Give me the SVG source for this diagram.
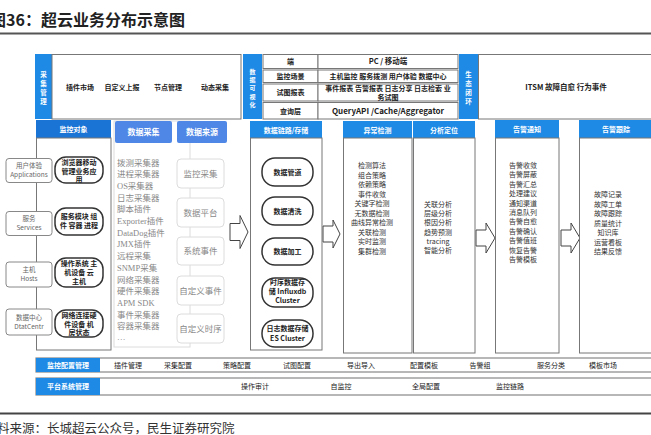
<svg xmlns="http://www.w3.org/2000/svg" width="651" height="435" viewBox="0 0 651 435">
<style>
text{font-family:"Noto Sans CJK SC","Liberation Sans",sans-serif;}
.t{font-size:7px;fill:#333;text-anchor:middle;}
.tb{font-size:7px;fill:#222;text-anchor:middle;font-weight:bold;}
.tn{font-size:7px;fill:#222;text-anchor:middle;}
.w{font-size:7px;fill:#fff;text-anchor:middle;font-weight:bold;}
.v{font-size:6.5px;fill:#fff;text-anchor:middle;font-weight:bold;}
.v6{font-size:6px;fill:#fff;text-anchor:middle;font-weight:bold;}
.g{font-size:6.5px;fill:#666;text-anchor:middle;}
.s{font-family:"Liberation Serif","Noto Sans CJK SC",serif;font-size:8.5px;fill:#888;}
.sc{font-family:"Liberation Serif","Noto Sans CJK SC",serif;font-size:8.5px;fill:#888;text-anchor:middle;}
.blue{fill:#1e8ae6;}
.box{fill:#fff;stroke:#777;stroke-width:1;}
.pill{fill:#fff;stroke:#333;stroke-width:1.5;}
.sm{fill:#fff;stroke:#888;stroke-width:1;}
.lt{fill:#fff;stroke:#dcdcdc;stroke-width:1;}
.hd{fill:#4f87e6;}
.arr{fill:#fff;stroke:#444;stroke-width:1;}
</style>
<rect width="651" height="435" fill="#fff"/>
<text x="-10" y="26" style="font-size:16px;font-weight:bold;fill:#222;">图36：超云业务分布示意图</text>
<line x1="0" y1="33.5" x2="651" y2="33.5" stroke="#555" stroke-width="2"/>

<g id="collect-mgmt">
<rect class="blue" x="35" y="54" width="17" height="65"/>
<text class="v" x="43.5" y="76.5">采</text><text class="v" x="43.5" y="85.5">集</text><text class="v" x="43.5" y="94.5">管</text><text class="v" x="43.5" y="103.5">理</text>
<rect class="box" x="52" y="54.5" width="189" height="64.5"/>
<text class="tb" x="80" y="90">插件市场</text>
<text class="tb" x="122" y="90">自定义上报</text>
<text class="tb" x="168" y="90">节点管理</text>
<text class="tb" x="215" y="90">动态采集</text>
</g>

<g id="data-vis">
<rect class="blue" x="243" y="54" width="19" height="65"/>
<text class="v6" x="252.5" y="73.5">数</text><text class="v6" x="252.5" y="81.9">据</text><text class="v6" x="252.5" y="90.3">可</text><text class="v6" x="252.5" y="98.7">视</text><text class="v6" x="252.5" y="107.1">化</text>
<rect class="box" x="263" y="54.5" width="55" height="14"/>
<rect class="box" x="263" y="70" width="55" height="12.5"/>
<rect class="box" x="263" y="84" width="55" height="17"/>
<rect class="box" x="263" y="102.5" width="55" height="16.5"/>
<rect class="box" x="318" y="54.5" width="140" height="14"/>
<rect class="box" x="318" y="70" width="140" height="12.5"/>
<rect class="box" x="318" y="84" width="140" height="17"/>
<rect class="box" x="318" y="102.5" width="140" height="16.5"/>
<text class="tb" x="290.5" y="64">端</text>
<text class="tb" x="290.5" y="79">监控场景</text>
<text class="tb" x="290.5" y="95">试图报表</text>
<text class="tb" x="290.5" y="113.5">查询层</text>
<text class="tb" x="388" y="64" style="font-size:7.5px">PC / 移动端</text>
<text class="tb" x="388" y="79">主机监控 服务拨测 用户体验 数据中心</text>
<text class="tb" x="388" y="91">事件报表 告警报表 日志分享 日志检索 业</text>
<text class="tb" x="388" y="99.5">务试图</text>
<text class="tb" x="388" y="114" style="font-size:8px">QueryAPI /Cache/Aggregator</text>
</g>

<g id="eco-loop">
<rect class="blue" x="459" y="54" width="19" height="65"/>
<text class="v" x="468.5" y="77">生</text><text class="v" x="468.5" y="86">态</text><text class="v" x="468.5" y="95">闭</text><text class="v" x="468.5" y="104">环</text>
<rect class="box" x="478.5" y="54.5" width="175" height="64.5"/>
<text class="tb" x="566" y="90" style="font-size:7.5px">ITSM 故障自愈 行为事件</text>
</g>

<g id="monitor-objects">
<rect x="36" y="120" width="75" height="18" fill="#1a74d6"/>
<text class="w" x="73.5" y="132">监控对象</text>
<rect class="box" x="36.5" y="138" width="74.5" height="212"/>
<rect class="sm" x="6" y="158.5" width="46" height="24" rx="3"/>
<text class="g" x="29" y="168">用户体验</text><text class="g" x="29" y="177">Applications</text>
<rect class="sm" x="6" y="211.5" width="46" height="24" rx="3"/>
<text class="g" x="29" y="221">服务</text><text class="g" x="29" y="230">Services</text>
<rect class="sm" x="6" y="262" width="46" height="25" rx="3"/>
<text class="g" x="29" y="272">主机</text><text class="g" x="29" y="281">Hosts</text>
<rect class="sm" x="6" y="309" width="46" height="26" rx="3"/>
<text class="g" x="29" y="319.5">数据中心</text><text class="g" x="29" y="328.5">DtatCentr</text>
<rect class="pill" x="55" y="157" width="48" height="26" rx="11"/>
<text class="tb" x="79" y="165">浏览器移动</text><text class="tb" x="79" y="173.5">管理业务应</text><text class="tb" x="79" y="182">用</text>
<rect class="pill" x="55" y="208" width="48" height="27" rx="11"/>
<text class="tb" x="79" y="219">服务模块 组</text><text class="tb" x="79" y="228">件 容器 进程</text>
<rect class="pill" x="55" y="258" width="48" height="29" rx="11"/>
<text class="tb" x="79" y="266">操作系统 主</text><text class="tb" x="79" y="275">机设备  云</text><text class="tb" x="79" y="284">主机</text>
<rect class="pill" x="55" y="310" width="48" height="27" rx="11"/>
<text class="tb" x="79" y="318">网络连接硬</text><text class="tb" x="79" y="326.5">件设备  机</text><text class="tb" x="79" y="335">房状态</text>
</g>

<g id="data-collect">
<rect class="lt" x="114" y="121" width="76" height="226"/>
<rect class="hd" x="115" y="121" width="57" height="22" rx="2"/>
<text class="w" x="143.5" y="135" style="font-size:8px">数据采集</text>
<text class="s" x="117" y="165.5">拨测采集器</text>
<text class="s" x="117" y="177.2">进程采集器</text>
<text class="s" x="117" y="188.9">OS采集器</text>
<text class="s" x="117" y="200.6">日志采集器</text>
<text class="s" x="117" y="212.3">脚本插件</text>
<text class="s" x="117" y="224">Exporter插件</text>
<text class="s" x="117" y="235.7">DataDog插件</text>
<text class="s" x="117" y="247.4">JMX插件</text>
<text class="s" x="117" y="259.1">远程采集</text>
<text class="s" x="117" y="270.8">SNMP采集</text>
<text class="s" x="117" y="282.5">网络采集器</text>
<text class="s" x="117" y="294.2">硬件采集器</text>
<text class="s" x="117" y="305.9">APM SDK</text>
<text class="s" x="117" y="317.6">事件采集器</text>
<text class="s" x="117" y="329.3">容器采集器</text>
<text class="s" x="117" y="340">…</text>
</g>

<g id="data-source">
<rect class="hd" x="177" y="121" width="50" height="22" rx="2"/>
<text class="w" x="202" y="135" style="font-size:8px">数据来源</text>
<rect class="lt" x="177" y="159" width="47" height="29" rx="4"/>
<text class="sc" x="200.5" y="176.5">监控采集</text>
<rect class="lt" x="177" y="198" width="47" height="29" rx="4"/>
<text class="sc" x="200.5" y="215.5">数据平台</text>
<rect class="lt" x="177" y="237" width="47" height="28" rx="4"/>
<text class="sc" x="200.5" y="254">系统事件</text>
<rect class="lt" x="177" y="276" width="47" height="29" rx="4"/>
<text class="sc" x="200.5" y="293.5">自定义事件</text>
<rect class="lt" x="177" y="314" width="47" height="29" rx="4"/>
<text class="sc" x="200.5" y="331.5">自定义时序</text>
</g>

<g id="connectors">
<polygon class="arr" points="230,223.5 240,223.5 240,215.5 248,232 240,248.5 240,240.5 230,240.5"/>
<polygon class="arr" points="323,226 333,226 333,220 340,234 333,248 333,242 323,242"/>
<polygon class="arr" points="476,230 486,230 486,223 495,238 486,253 486,246 476,246"/>
<polygon class="arr" points="561,230 571,230 571,223 580,238 571,253 571,246 561,246"/>
</g>

<g id="data-link">
<rect class="blue" x="250" y="121" width="72" height="17"/>
<text class="w" x="286" y="132.5">数据链路/存储</text>
<rect class="box" x="250.5" y="138" width="71.5" height="212"/>
<rect class="pill" x="262" y="158" width="51" height="28" rx="13"/>
<text class="tb" x="287.5" y="174.5">数据管道</text>
<rect class="pill" x="262" y="197" width="51" height="28" rx="13"/>
<text class="tb" x="287.5" y="213.5">数据清洗</text>
<rect class="pill" x="262" y="238" width="51" height="27" rx="13"/>
<text class="tb" x="287.5" y="254">数据加工</text>
<rect class="pill" x="262" y="278" width="51" height="29" rx="13"/>
<text class="tb" x="287.5" y="284.5">时序数据存</text><text class="tb" x="287.5" y="294">储 Influxdb</text><text class="tb" x="287.5" y="303">Cluster</text>
<rect class="pill" x="262" y="320" width="51" height="27" rx="13"/>
<text class="tb" x="287.5" y="331">日志数据存储</text><text class="tb" x="287.5" y="340.5">ES Cluster</text>
</g>

<g id="anomaly">
<rect class="blue" x="343" y="121" width="69" height="17"/>
<text class="w" x="377.5" y="132.5">异常检测</text>
<rect class="box" x="343.5" y="138" width="68.5" height="215"/>
<text class="t" x="372" y="168">检测算法</text>
<text class="t" x="372" y="177.5">组合策略</text>
<text class="t" x="372" y="187">依赖策略</text>
<text class="t" x="372" y="196.5">事件收敛</text>
<text class="t" x="372" y="206">关键字检测</text>
<text class="t" x="372" y="215.5">无数据检测</text>
<text class="t" x="372" y="225">曲线异常检测</text>
<text class="t" x="372" y="234.5">关联检测</text>
<text class="t" x="372" y="244">实时监测</text>
<text class="t" x="372" y="253.5">集群检测</text>
</g>

<g id="analysis">
<rect class="blue" x="413" y="121" width="62" height="17"/>
<text class="w" x="444" y="132.5">分析定位</text>
<rect class="box" x="413.5" y="138" width="61.5" height="215"/>
<text class="t" x="438" y="207">关联分析</text>
<text class="t" x="438" y="216.2">层级分析</text>
<text class="t" x="438" y="225.4">根因分析</text>
<text class="t" x="438" y="234.6">趋势预测</text>
<text class="t" x="438" y="243.8">tracing</text>
<text class="t" x="438" y="253">智能分析</text>
</g>

<g id="alert-notify">
<rect class="blue" x="495" y="120" width="64" height="18"/>
<text class="w" x="527" y="132">告警通知</text>
<rect class="box" x="495.5" y="138" width="63.5" height="215"/>
<text class="t" x="523" y="168">告警收敛</text>
<text class="t" x="523" y="177.4">告警屏蔽</text>
<text class="t" x="523" y="186.8">告警汇总</text>
<text class="t" x="523" y="196.2">处理建议</text>
<text class="t" x="523" y="205.6">通知渠道</text>
<text class="t" x="523" y="215">消息队列</text>
<text class="t" x="523" y="224.4">告警自愈</text>
<text class="t" x="523" y="233.8">告警确认</text>
<text class="t" x="523" y="243.2">告警值班</text>
<text class="t" x="523" y="252.6">恢复告警</text>
<text class="t" x="523" y="262">告警模板</text>
</g>

<g id="alert-track">
<rect class="blue" x="579" y="120" width="80" height="18"/>
<text class="w" x="616" y="132">告警跟踪</text>
<rect class="box" x="579.5" y="138" width="80" height="215"/>
<text class="t" x="608" y="197">故障记录</text>
<text class="t" x="608" y="206.5">故障工单</text>
<text class="t" x="608" y="216">故障跟踪</text>
<text class="t" x="608" y="225.5">质量统计</text>
<text class="t" x="608" y="235">知识库</text>
<text class="t" x="608" y="244.5">运营看板</text>
<text class="t" x="608" y="254">结果反馈</text>
</g>

<g id="config-mgmt">
<rect x="36" y="358" width="620" height="14" fill="#fff" stroke="#888" stroke-width="1.2"/>
<rect class="blue" x="36" y="358" width="64" height="14"/>
<text class="w" x="68" y="367.5">监控配置管理</text>
<text class="tn" x="128" y="367.5">插件管理</text>
<text class="tn" x="178" y="367.5">采集配置</text>
<text class="tn" x="237" y="367.5">策略配置</text>
<text class="tn" x="297" y="367.5">试图配置</text>
<text class="tn" x="361" y="367.5">导出导入</text>
<text class="tn" x="424" y="367.5">配置模板</text>
<text class="tn" x="480" y="367.5">告警组</text>
<text class="tn" x="551" y="367.5">服务分类</text>
<text class="tn" x="603" y="367.5">模板市场</text>
</g>

<g id="platform-mgmt">
<rect x="36" y="378" width="620" height="17" fill="#fff" stroke="#888" stroke-width="1.2"/>
<rect class="blue" x="36" y="378" width="64" height="17"/>
<text class="w" x="68" y="389">平台系统管理</text>
<text class="tn" x="255" y="389">操作审计</text>
<text class="tn" x="341" y="389">自监控</text>
<text class="tn" x="426" y="389">全局配置</text>
<text class="tn" x="510" y="389">监控链路</text>
</g>

<line x1="0" y1="413.5" x2="651" y2="413.5" stroke="#444" stroke-width="2"/>
<text x="-3" y="433" style="font-size:12.5px;fill:#333;">料来源：长城超云公众号，民生证券研究院</text>
</svg>
